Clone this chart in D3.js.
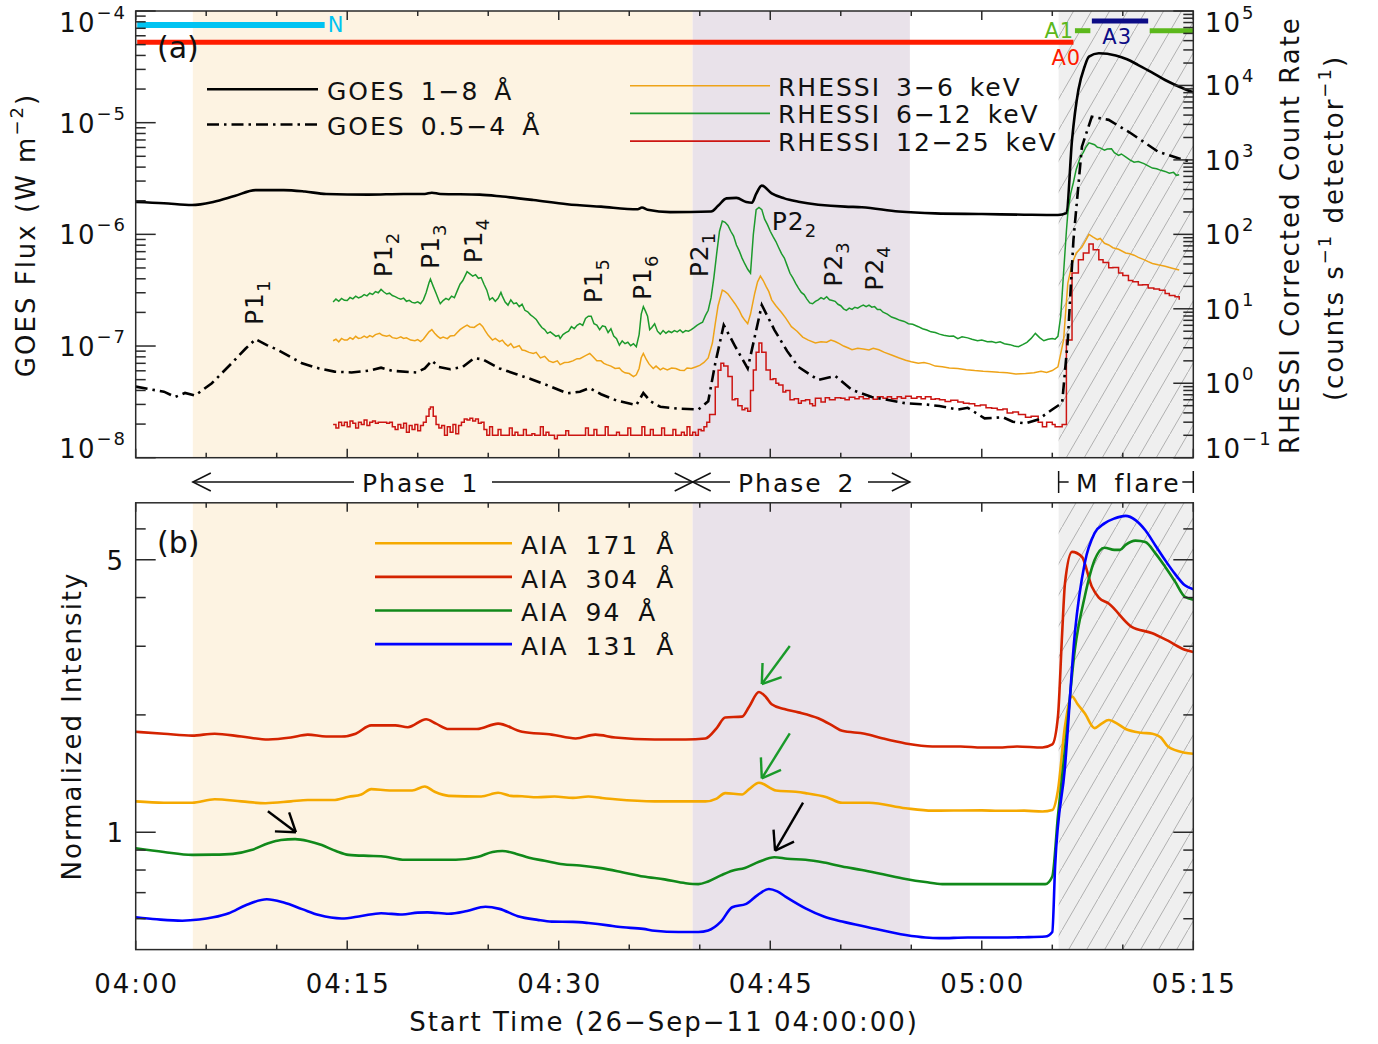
<!DOCTYPE html>
<html>
<head>
<meta charset="utf-8">
<script src="https://cdn.jsdelivr.net/npm/d3@7"></script>
<style>
body{margin:0;background:#fff}
text{font-family:"DejaVu Sans",sans-serif;fill:#111;letter-spacing:2px}
</style>
</head>
<body>
<div id="wrapper"></div>
<script>
// Data: time in minutes after 04:00 UT on 26-Sep-2011
const goesLong = [[0,1.95e-6],[2,1.9e-6],[4,1.83e-6],[5.5,1.95e-6],[7,2.2e-6],[8.5,2.49e-6],[10.5,2.49e-6],[12,2.42e-6],[13.5,2.3e-6],[16.5,2.27e-6],[19,2.3e-6],[20.5,2.3e-6],[21,2.36e-6],[21.6,2.3e-6],[24.4,2.27e-6],[26,2.18e-6],[28.2,2.03e-6],[30.6,1.86e-6],[33,1.77e-6],[35.6,1.68e-6],[35.9,1.74e-6],[36.3,1.66e-6],[37.9,1.58e-6],[40.8,1.6e-6],[41.3,1.8e-6],[41.9,2.1e-6],[42.6,2.12e-6],[43.3,1.95e-6],[43.7,1.92e-6],[44,2.3e-6],[44.4,2.73e-6],[45.1,2.33e-6],[46,2.1e-6],[47,1.96e-6],[50.3,1.77e-6],[51.5,1.75e-6],[54.1,1.6e-6],[56.7,1.54e-6],[60,1.52e-6],[63,1.5e-6],[65.4,1.49e-6],[66,1.55e-6],[66.4,7e-6],[66.85,1.96e-5],[67.3,3.2e-5],[67.6,3.9e-5],[68.3,4.18e-5],[69.5,4e-5],[70.3,3.7e-5],[71.1,3.28e-5],[72,2.85e-5],[73,2.41e-5],[74,2.1e-5],[75,1.87e-5]];
const goesShort = [[0,4.33e-8],[1,4.1e-8],[2,3.9e-8],[2.8,3.5e-8],[3.5,3.8e-8],[4.2,3.6e-8],[5.4,4.64e-8],[6.8,7e-8],[7.8,9.5e-8],[8.5,1.15e-7],[9.3,1.02e-7],[10.1,9.2e-8],[11.8,7e-8],[13,6.3e-8],[14.1,5.9e-8],[15.3,5.8e-8],[16.5,6e-8],[17.4,6.4e-8],[18.2,6e-8],[19.9,5.8e-8],[20.5,6.3e-8],[21,7.4e-8],[21.5,6.5e-8],[22.3,6.2e-8],[23.2,6.5e-8],[24,7.8e-8],[24.6,7.6e-8],[25.8,6.3e-8],[27,5.6e-8],[28.2,4.97e-8],[29.5,4.3e-8],[30.6,3.77e-8],[31.5,3.9e-8],[32.2,4.2e-8],[33,3.7e-8],[34.1,3.25e-8],[35.5,2.96e-8],[36,3.8e-8],[36.5,3.2e-8],[37.2,2.86e-8],[38.5,2.75e-8],[39.9,2.7e-8],[40.6,3.2e-8],[41.1,7e-8],[41.7,1.54e-7],[42.5,1e-7],[43.4,6.3e-8],[43.9,1.21e-7],[44.4,2.33e-7],[45.3,1.39e-7],[46.2,9e-8],[47,6.5e-8],[48.4,4.97e-8],[49.6,5.4e-8],[50.8,4.04e-8],[52.2,3.5e-8],[54.6,3.07e-8],[56,3e-8],[57,2.9e-8],[58.3,2.7e-8],[59,2.8e-8],[60.2,2.25e-8],[61.5,2.3e-8],[62.2,2.1e-8],[63.1,2.03e-8],[64,2.2e-8],[65,2.7e-8],[65.7,3.1e-8],[66.1,1.13e-7],[66.5,8.9e-7],[67.1,6.1e-6],[67.8,1.13e-5],[69,1.06e-5],[70.6,8e-6],[72.5,5.5e-6],[74.4,4.6e-6],[75,4.5e-6]];

const rhessiLow = [[14,3.72],[14.2,3.9],[14.4,3.6],[14.6,4],[14.8,3.8],[15,3.8],[15.2,4.1],[15.4,3.9],[15.6,4.27],[15.8,4],[16,4.07],[16.2,4.3],[16.4,4.1],[16.6,4.37],[16.8,4.2],[17,4.5],[17.3,4.68],[17.5,4.4],[17.8,4.27],[18,4.4],[18.2,4.1],[18.5,3.98],[18.8,4.2],[19,4],[19.2,4.07],[19.5,3.8],[19.8,3.72],[20,3.85],[20.2,3.63],[20.4,3.9],[20.6,4.37],[20.8,4.9],[21,5.25],[21.2,4.7],[21.4,4.3],[21.6,4],[21.8,4.17],[22.1,3.98],[22.3,4.3],[22.6,4.37],[22.8,4.8],[23,5.25],[23.2,5.6],[23.5,6.03],[23.7,5.7],[24,5.62],[24.2,6],[24.4,6.31],[24.6,5.8],[24.8,5.01],[25,4.4],[25.3,3.8],[25.5,4],[25.8,3.63],[26,3.8],[26.2,3.4],[26.4,3.16],[26.6,3.4],[26.8,3],[27,3.09],[27.2,3.2],[27.4,2.8],[27.6,2.75],[27.9,2.6],[28.2,2.51],[28.4,2.6],[28.7,2.19],[29,2.3],[29.3,2],[29.6,1.9],[29.9,2],[30.1,1.78],[30.4,1.9],[30.7,1.91],[31,2],[31.3,2.14],[31.5,2.14],[31.8,2.3],[32,2.4],[32.2,2.51],[32.4,2.3],[32.7,2],[33,2],[33.2,1.85],[33.4,1.78],[33.7,1.7],[34,1.58],[34.3,1.6],[34.5,1.45],[34.7,1.38],[35,1.35],[35.3,1.23],[35.5,1.3],[35.7,1.58],[35.85,2.2],[36,2.51],[36.2,2.1],[36.4,1.82],[36.7,1.58],[36.9,1.7],[37.2,1.51],[37.4,1.6],[37.7,1.51],[38,1.6],[38.3,1.58],[38.6,1.5],[38.9,1.48],[39.1,1.6],[39.4,1.58],[39.7,1.65],[40,1.74],[40.3,1.9],[40.6,2.19],[40.9,3.5],[41.1,6.31],[41.3,11],[41.6,17.8],[41.8,17],[42,15.8],[42.2,14],[42.5,11.7],[42.8,9.5],[43,7.94],[43.2,7],[43.4,6.31],[43.6,8.5],[43.9,16.2],[44.1,23],[44.3,27.5],[44.5,24],[44.7,20],[44.9,17],[45.1,13.2],[45.4,11],[45.8,8.91],[46.1,7.5],[46.5,5.75],[46.9,5],[47.3,4.17],[47.7,3.8],[48.2,3.47],[48.6,3.6],[49,3.55],[49.3,3.8],[49.6,3.63],[49.9,3.4],[50.2,3.16],[50.5,3],[50.8,2.82],[51.2,2.95],[51.6,2.88],[52,2.8],[52.3,2.95],[52.7,2.82],[53.1,2.6],[53.6,2.4],[54.1,2.2],[54.6,2.04],[55,1.95],[55.5,1.86],[55.9,1.9],[56.3,1.82],[56.7,1.7],[57.2,1.66],[57.7,1.6],[58.3,1.58],[58.9,1.52],[59.5,1.48],[60.1,1.45],[60.7,1.43],[61.2,1.4],[61.8,1.38],[62.4,1.33],[63.1,1.35],[63.7,1.38],[64.2,1.45],[64.6,1.4],[65,1.48],[65.4,1.66],[65.8,3.8],[66.1,21.9],[66.4,40],[66.7,56.2],[67.1,67.6],[67.4,85],[67.6,100],[67.9,92],[68.2,85.1],[68.4,88],[68.7,75.9],[69,72],[69.3,66.1],[69.7,63],[70.2,56.2],[70.5,55],[70.8,52.5],[71.1,49],[71.5,45.7],[71.8,43],[72.1,40.7],[72.5,39],[73,37.2],[73.5,35],[74,33.1]];
const rhessiMid = [[14,12.3],[14.2,13.5],[14.4,12.6],[14.6,13.8],[14.8,13],[15,12.9],[15.2,14.2],[15.4,13.6],[15.6,14.8],[15.8,14],[16,14.5],[16.2,15.5],[16.4,14.9],[16.6,16.2],[16.8,15.6],[17,17],[17.2,16.4],[17.4,18.2],[17.6,16.8],[17.8,15.8],[18,16.2],[18.2,15.1],[18.4,14.6],[18.6,13.9],[18.8,13.5],[19,13.9],[19.2,12.6],[19.4,13],[19.6,12.2],[19.8,12],[20,12.4],[20.2,11.7],[20.4,13.2],[20.6,16.6],[20.8,22.4],[20.9,25.1],[21.1,20],[21.3,16.2],[21.5,12.9],[21.6,11.7],[21.8,12.9],[22,13.8],[22.2,13.2],[22.4,14.8],[22.6,14.1],[22.8,17.4],[23,21.4],[23.2,24],[23.4,28.8],[23.5,31.6],[23.7,29.5],[23.9,27.5],[24.1,28.8],[24.3,25.7],[24.5,26.3],[24.7,21.4],[24.9,17.8],[25.1,13.2],[25.3,14.1],[25.5,12.6],[25.7,13.8],[25.9,16.6],[26,14.8],[26.2,12.3],[26.4,11.2],[26.6,13.2],[26.8,11.7],[27,12],[27.2,10.7],[27.4,11.5],[27.6,9.55],[27.8,9.1],[28,8.3],[28.2,7.76],[28.4,7.2],[28.6,6.3],[28.8,5.6],[29,5.25],[29.2,4.68],[29.4,4.9],[29.6,4.57],[29.8,4.27],[30,4.4],[30.1,3.98],[30.3,4.5],[30.5,4.79],[30.7,5],[30.9,5.75],[31.1,5.4],[31.3,6],[31.5,6.31],[31.7,6],[31.9,7.4],[32.1,7.94],[32.3,7.94],[32.5,6.3],[32.7,6.03],[32.9,5.25],[33.1,5.9],[33.3,5.75],[33.5,4.8],[33.7,5.4],[33.9,4.3],[34.1,3.98],[34.3,3.24],[34.5,3.7],[34.7,3.4],[34.9,3.55],[35.1,3.2],[35.3,3.4],[35.5,3.09],[35.7,4.5],[35.85,8.5],[36,10.7],[36.15,9.3],[36.3,7.94],[36.45,5.25],[36.6,5.6],[36.8,6.3],[37,5],[37.2,4.57],[37.4,5.1],[37.6,4.7],[37.8,5],[38,4.8],[38.2,5.1],[38.4,4.9],[38.6,5.2],[38.8,4.79],[39,5.1],[39.2,5],[39.4,5.25],[39.6,5.6],[39.8,6],[40,6.31],[40.2,6.6],[40.4,8.1],[40.6,9.55],[40.8,14],[41,26],[41.2,55],[41.4,110],[41.6,151],[41.8,145],[42,132],[42.2,110],[42.4,95],[42.6,72],[42.8,60],[43,48],[43.2,40],[43.4,34],[43.6,30.2],[43.8,100],[44,214],[44.2,230],[44.4,215],[44.6,160],[44.8,135],[45,110],[45.2,93],[45.4,80],[45.6,66],[45.8,55],[46,48],[46.2,38],[46.4,30],[46.6,26],[46.8,22],[47,19],[47.2,16.6],[47.4,15.5],[47.6,13.5],[47.8,12],[48,11.7],[48.2,12.6],[48.4,13.2],[48.6,14.1],[48.8,13.5],[49,14.5],[49.2,13.2],[49.4,12.9],[49.6,12.6],[49.8,11.5],[50,11],[50.2,10],[50.4,9.55],[50.6,10.2],[50.8,9.8],[51,10.5],[51.2,10.2],[51.4,10.8],[51.6,11.2],[51.8,10.7],[52,11.2],[52.2,10.5],[52.4,10.7],[52.6,9.8],[52.8,9.77],[53,9],[53.3,8.5],[53.6,7.76],[53.9,7.4],[54.2,7],[54.5,6.76],[54.8,6.3],[55.1,6.2],[55.5,5.75],[55.8,5.4],[56.1,5.2],[56.4,4.9],[56.7,4.8],[57,4.57],[57.3,4.4],[57.7,4.27],[58,4.3],[58.3,3.98],[58.6,4.2],[59,4.07],[59.3,3.9],[59.7,3.72],[60,3.8],[60.4,3.6],[60.7,3.63],[61,3.5],[61.3,3.6],[61.6,3.4],[62,3.3],[62.3,3.16],[62.6,3.09],[62.9,3.3],[63.2,3.55],[63.5,4],[63.8,4.68],[64.1,4.1],[64.4,3.72],[64.7,3.9],[65,4],[65.2,3.9],[65.4,4.27],[65.6,8],[65.8,30.2],[66,110],[66.1,191],[66.3,350],[66.5,501],[66.7,750],[66.85,912],[67,1100],[67.2,1259],[67.4,1500],[67.6,1698],[67.8,1650],[68,1600],[68.2,1479],[68.4,1450],[68.7,1349],[68.9,1400],[69.2,1413],[69.4,1250],[69.7,1148],[69.9,1200],[70.2,1096],[70.5,1000],[70.8,933],[71.1,950],[71.5,891],[71.8,830],[72.1,776],[72.4,760],[72.7,724],[73,700],[73.3,661],[73.6,680],[73.8,620],[74,631]];
const rhessiHigh = [[14,0.28],[14.2,0.25],[14.4,0.3],[14.6,0.27],[14.8,0.3],[15,0.26],[15.2,0.31],[15.4,0.29],[15.6,0.25],[15.8,0.3],[16,0.28],[16.2,0.32],[16.4,0.27],[16.6,0.3],[16.8,0.31],[17,0.29],[17.2,0.3],[17.5,0.3],[17.8,0.29],[18,0.3],[18.2,0.26],[18.4,0.24],[18.6,0.28],[18.8,0.25],[19,0.29],[19.2,0.22],[19.4,0.27],[19.6,0.24],[19.8,0.28],[20,0.23],[20.2,0.27],[20.4,0.3],[20.6,0.36],[20.8,0.45],[20.9,0.48],[21.1,0.36],[21.3,0.28],[21.5,0.25],[21.7,0.27],[21.9,0.2],[22.1,0.26],[22.3,0.22],[22.5,0.28],[22.7,0.21],[22.9,0.27],[23.1,0.3],[23.3,0.33],[23.5,0.32],[23.7,0.34],[23.9,0.31],[24.1,0.33],[24.3,0.29],[24.5,0.3],[24.7,0.24],[24.9,0.2],[25.1,0.26],[25.3,0.2],[25.5,0.2],[25.7,0.24],[25.9,0.2],[26.1,0.2],[26.3,0.2],[26.5,0.25],[26.7,0.2],[26.9,0.22],[27.1,0.2],[27.3,0.2],[27.5,0.24],[27.7,0.2],[27.9,0.2],[28.1,0.21],[28.3,0.2],[28.5,0.2],[28.7,0.26],[28.9,0.2],[29.1,0.22],[29.3,0.2],[29.5,0.2],[29.7,0.18],[29.9,0.2],[30.1,0.2],[30.3,0.2],[30.5,0.23],[30.7,0.2],[30.9,0.2],[31.1,0.2],[31.3,0.2],[31.5,0.2],[31.7,0.2],[31.9,0.25],[32.1,0.2],[32.3,0.2],[32.5,0.24],[32.7,0.2],[32.9,0.2],[33.1,0.2],[33.3,0.26],[33.5,0.2],[33.7,0.2],[33.9,0.2],[34.1,0.22],[34.3,0.2],[34.5,0.2],[34.7,0.2],[34.9,0.25],[35.1,0.2],[35.3,0.2],[35.5,0.2],[35.7,0.2],[35.9,0.26],[36.1,0.2],[36.3,0.2],[36.5,0.24],[36.7,0.2],[36.9,0.2],[37.1,0.2],[37.3,0.25],[37.5,0.2],[37.7,0.2],[37.9,0.2],[38.1,0.24],[38.3,0.2],[38.5,0.2],[38.7,0.22],[38.9,0.2],[39.1,0.26],[39.3,0.2],[39.5,0.22],[39.7,0.2],[39.9,0.24],[40.1,0.23],[40.3,0.26],[40.5,0.3],[40.7,0.38],[41.1,0.89],[41.3,1.5],[41.5,1.86],[41.7,1.7],[42,1.23],[42.3,0.6],[42.5,0.62],[42.7,0.5],[43,0.44],[43.2,0.46],[43.4,0.42],[43.6,0.8],[43.8,1.51],[44,2.6],[44.2,3.47],[44.4,2.6],[44.7,1.51],[45,1.12],[45.2,1.15],[45.4,1],[45.6,0.95],[45.9,0.76],[46.1,0.8],[46.4,0.6],[46.7,0.62],[47,0.54],[47.2,0.58],[47.5,0.6],[47.8,0.53],[48,0.5],[48.2,0.63],[48.6,0.56],[48.9,0.64],[49.2,0.6],[49.6,0.64],[50,0.63],[50.3,0.6],[50.6,0.65],[51,0.62],[51.3,0.66],[51.6,0.62],[52,0.65],[52.3,0.61],[52.6,0.66],[53,0.63],[53.3,0.66],[53.6,0.62],[54,0.66],[54.3,0.63],[54.6,0.67],[55,0.63],[55.4,0.66],[55.7,0.62],[56,0.66],[56.4,0.61],[56.7,0.62],[57,0.6],[57.4,0.57],[57.8,0.59],[58.3,0.56],[58.7,0.54],[59.1,0.53],[59.5,0.5],[59.9,0.51],[60.3,0.47],[60.7,0.46],[61.1,0.44],[61.5,0.45],[61.8,0.4],[62.2,0.41],[62.6,0.38],[63.1,0.35],[63.5,0.36],[64,0.3],[64.3,0.26],[64.6,0.3],[65,0.28],[65.2,0.26],[65.4,0.26],[65.7,0.28],[66,3.8],[66.4,30.2],[66.85,45.7],[67.2,56.2],[67.6,74.1],[67.9,62],[68.3,45.7],[68.6,42],[69,35.5],[69.3,36],[69.7,30.2],[70,28],[70.4,24],[70.7,23],[71.1,20.9],[71.4,21],[71.8,19.1],[72.2,18.5],[72.6,17.8],[73,16],[73.3,15.1],[73.7,14.5],[74,13.2]];

const aia304 = [[0,1.81],[2,1.79],[4,1.77],[5.6,1.79],[7.5,1.76],[9.4,1.73],[11,1.75],[12.2,1.78],[13.5,1.76],[14.6,1.76],[15.6,1.79],[16.7,1.88],[18.4,1.88],[19.3,1.86],[20.6,1.95],[21.3,1.9],[22.2,1.84],[24.2,1.84],[25.7,1.9],[27.4,1.81],[29.5,1.78],[31.2,1.74],[32.6,1.78],[34,1.75],[36.8,1.73],[39,1.73],[40.4,1.74],[41.2,1.85],[41.8,1.97],[43,1.98],[43.5,2.1],[44.2,2.29],[44.7,2.22],[45.1,2.13],[46,2.07],[47,2.03],[48.4,1.96],[49.5,1.87],[50.1,1.82],[51.7,1.79],[53,1.74],[54.6,1.69],[56.5,1.66],[58.5,1.66],[60,1.65],[61.2,1.65],[62.5,1.66],[64.3,1.65],[65,1.68],[65.4,1.98],[65.7,3.24],[65.9,4.35],[66.4,5.24],[67.1,5.09],[67.8,4.27],[68.3,4],[69,3.86],[70.6,3.37],[72.1,3.24],[73.2,3.1],[74.4,2.94],[75,2.9]];
const aia171 = [[0,1.2],[2,1.19],[4,1.19],[5.6,1.215],[7.5,1.2],[9.2,1.187],[11,1.2],[12.2,1.21],[14,1.21],[15.1,1.233],[16,1.25],[16.7,1.29],[18,1.28],[19.6,1.28],[20.5,1.31],[21.2,1.27],[22.2,1.24],[24.5,1.235],[25.7,1.263],[26.6,1.24],[27.4,1.237],[28.5,1.23],[29.7,1.235],[31,1.225],[32.1,1.235],[33,1.225],[34,1.215],[36.8,1.2],[39,1.2],[40.4,1.2],[41.2,1.22],[41.8,1.26],[43,1.25],[43.5,1.29],[44.2,1.34],[45.4,1.28],[46.8,1.27],[47.5,1.26],[49,1.23],[50.1,1.19],[52,1.19],[54.6,1.152],[56.5,1.136],[58,1.137],[60,1.138],[61.2,1.135],[63,1.136],[64.3,1.13],[65,1.14],[65.4,1.28],[65.9,1.87],[66.4,2.23],[66.8,2.13],[67.3,2.02],[68,1.85],[68.5,1.9],[69,1.94],[69.6,1.9],[70.2,1.84],[71.3,1.8],[72.1,1.79],[72.7,1.75],[73.2,1.66],[74.4,1.6],[75,1.59]];
const aia94 = [[0,0.91],[2,0.89],[4,0.875],[5.5,0.876],[6.9,0.88],[8.2,0.9],[9.4,0.937],[10.3,0.955],[11.3,0.96],[12.2,0.95],[13.2,0.927],[14.2,0.895],[15.1,0.875],[16.5,0.87],[17.4,0.868],[19.1,0.85],[21,0.85],[22.7,0.85],[24.3,0.865],[25.3,0.89],[26,0.895],[27,0.88],[27.9,0.86],[29,0.845],[30.3,0.828],[31.5,0.822],[33,0.809],[34.5,0.79],[36,0.77],[37.5,0.757],[39,0.74],[39.9,0.736],[40.6,0.748],[41.5,0.775],[42.3,0.797],[43.2,0.81],[44.2,0.84],[45.3,0.863],[46.2,0.855],[47.5,0.85],[48.8,0.836],[50.1,0.817],[51.5,0.8],[53,0.78],[54.6,0.759],[56,0.745],[57.2,0.736],[59,0.736],[61.2,0.736],[63,0.736],[64.5,0.736],[65,0.77],[65.4,1.1],[65.9,1.63],[66.6,2.94],[67.3,4.02],[68,4.99],[68.7,5.37],[69.4,5.3],[69.8,5.3],[70.2,5.46],[70.9,5.6],[71.6,5.55],[72.3,5.2],[73,4.8],[73.7,4.4],[74.4,4.02],[75,3.95]];
const aia131 = [[0,0.605],[1.5,0.598],[3.3,0.593],[4.5,0.597],[5.5,0.605],[6.6,0.62],[7.8,0.65],[9.3,0.673],[10.5,0.66],[11.8,0.635],[13,0.613],[14.6,0.601],[16,0.61],[17.4,0.62],[18.9,0.615],[20,0.622],[20.7,0.623],[22.2,0.618],[23.5,0.628],[24.8,0.644],[25.8,0.636],[27.1,0.609],[28.5,0.596],[29.5,0.59],[31,0.589],[32.1,0.585],[33.5,0.577],[34.2,0.572],[36,0.565],[36.8,0.559],[38.5,0.555],[39.9,0.555],[40.6,0.56],[41.5,0.59],[42.3,0.642],[43.3,0.655],[44.1,0.69],[44.9,0.715],[45.5,0.705],[46.1,0.683],[47.5,0.638],[48.8,0.608],[50.1,0.59],[52,0.57],[54.6,0.545],[56,0.537],[57,0.535],[59,0.537],[61.2,0.537],[63,0.538],[64.5,0.54],[65,0.555],[65.2,0.817],[65.9,1.47],[66.6,3.24],[67.3,4.9],[68,5.85],[68.7,6.2],[69.4,6.38],[70.2,6.48],[70.9,6.32],[71.6,5.95],[72.3,5.45],[73,4.99],[73.7,4.6],[74.4,4.3],[75,4.2]];

// shaded intervals (minutes)
const phase1 = [4.05, 39.5];
const phase2 = [39.5, 54.9];
const flare = [65.45, 75];
// attenuator / night bars
const barN = [0, 13.4];
const barA0 = [0, 66.5];
const barA1 = [[66.5, 67.7], [71.8, 75]];
const barA3 = [67.7, 71.8];

// peak labels: time, flux level of label start, main text, subscript, rotated
const peakLabels = [
  [9.03, 1.54e-7, "P1", "1", true], [18.18, 4.12e-7, "P1", "2", true],
  [21.51, 4.9e-7, "P1", "3", true], [24.56, 5.5e-7, "P1", "4", true],
  [33.07, 2.41e-7, "P1", "5", true], [36.55, 2.58e-7, "P1", "6", true],
  [40.59, 4.12e-7, "P2", "1", true], [45.1, 1.09e-6, "P2", "2", false],
  [50.09, 3.4e-7, "P2", "3", true], [53.0, 3.13e-7, "P2", "4", true]
];
// arrows in panel b: tip time, tip intensity, tail offset dx, dy, colour
const arrowsB = [
  [11.36, 1.0, -28, -21, "#000"], [44.4, 2.40, 28, -38, "#1a9a2a"],
  [44.4, 1.375, 28, -45, "#1a9a2a"], [45.34, 0.897, 28, -48, "#000"]
];

const timeMajor = [0, 15, 30, 45, 60, 75];
const timeMinor = d3.range(5, 75, 5).filter(d => d % 15 !== 0);
const goesDecades = [-8, -7, -6, -5, -4];
const rhessiDecades = [-1, 0, 1, 2, 3, 4, 5];
const normMajor = [1, 5];
const normMinor = [0.6, 0.7, 0.8, 0.9, 2, 3, 4, 6];

// Dimension
const width = 1378, height = 1044;
const L = 135.7, R = 1193.3;
const pa = {top: 11, bottom: 457.7};
const pb = {top: 502.8, bottom: 949.6};

const svg = d3.select('#wrapper').append('svg').attr('width', width).attr('height', height);
const defs = svg.append('defs');
const pat = defs.append('pattern').attr('id', 'hatch').attr('patternUnits', 'userSpaceOnUse')
  .attr('width', 18).attr('height', 31);
pat.append('rect').attr('width', 18).attr('height', 31).attr('fill', '#efefef');
pat.append('line').attr('x1', 0).attr('y1', 31).attr('x2', 18).attr('y2', 0)
  .attr('stroke', '#a8a8a8').attr('stroke-width', 0.9);
defs.append('clipPath').attr('id', 'clipA').append('rect')
  .attr('x', L).attr('y', pa.top).attr('width', R - L).attr('height', pa.bottom - pa.top);
defs.append('clipPath').attr('id', 'clipB').append('rect')
  .attr('x', L).attr('y', pb.top).attr('width', R - L).attr('height', pb.bottom - pb.top);

// Scales
const x = d3.scaleLinear().domain([0, 75]).range([L, R]);
const yG = d3.scaleLog().domain([1e-8, 1e-4]).range([pa.bottom, pa.top]);
const yR = d3.scaleLog().domain([0.1, 1e5]).range([pa.bottom, pa.top]);
const yN = d3.scaleLog().domain([0.5, 7]).range([pb.bottom, pb.top]);

// backgrounds
[pa, pb].forEach(p => {
  const g = svg.append('g');
  g.append('rect').attr('x', x(phase1[0])).attr('y', p.top).attr('width', x(phase1[1]) - x(phase1[0]))
    .attr('height', p.bottom - p.top).attr('fill', '#fdf3e2');
  g.append('rect').attr('x', x(phase2[0])).attr('y', p.top).attr('width', x(phase2[1]) - x(phase2[0]))
    .attr('height', p.bottom - p.top).attr('fill', '#e9e2ea');
  g.append('rect').attr('x', x(flare[0])).attr('y', p.top).attr('width', x(flare[1]) - x(flare[0]))
    .attr('height', p.bottom - p.top).attr('fill', 'url(#hatch)');
});

// Panel a curves
const gA = svg.append('g').attr('clip-path', 'url(#clipA)');
const lineG = d3.line().x(d => x(d[0])).y(d => yG(d[1]));
const lineR = d3.line().x(d => x(d[0])).y(d => yR(d[1]));
const lineN = d3.line().x(d => x(d[0])).y(d => yN(d[1])).curve(d3.curveMonotoneX);

gA.append('path').datum(rhessiLow).attr('d', lineR).attr('fill', 'none').attr('stroke', '#eea318').attr('stroke-width', 1.5);
gA.append('path').datum(rhessiMid).attr('d', lineR).attr('fill', 'none').attr('stroke', '#1c9a2c').attr('stroke-width', 1.5);
gA.append('path').datum(rhessiHigh).attr('d', lineR.curve(d3.curveStepAfter)).attr('fill', 'none').attr('stroke', '#cc1512').attr('stroke-width', 1.5);
gA.append('path').datum(goesShort).attr('d', lineG).attr('fill', 'none').attr('stroke', '#000')
  .attr('stroke-width', 2.6).attr('stroke-dasharray', '12,5,2.5,5');
gA.append('path').datum(goesLong).attr('d', lineG.curve(d3.curveMonotoneX)).attr('fill', 'none').attr('stroke', '#000').attr('stroke-width', 2.6);

// top bars
const bars = svg.append('g');
const hbar = (iv, y, col, w) => bars.append('line').attr('x1', x(iv[0]) + 1.5).attr('x2', x(iv[1]))
  .attr('y1', y).attr('y2', y).attr('stroke', col).attr('stroke-width', w);
hbar(barN, 25, '#00c3f2', 6);
hbar(barA0, 42.3, '#ff1c00', 5);
barA1.forEach(iv => hbar(iv, 30.7, '#5cb81c', 5));
hbar(barA3, 21, '#0c0c86', 5);
const smallText = (t, xx, yy, col) => bars.append('text').attr('x', xx).attr('y', yy).text(t)
  .style('fill', col).style('font-size', '21px').style('letter-spacing', '1px');
smallText('N', x(barN[1]) + 3, 31.5, '#00c3f2');
smallText('A1', x(barA1[0][0]) - 29, 37.5, '#5cb81c');
smallText('A3', x(barA3[0]) + 12, 43.5, '#0c0c86');
smallText('A0', x(barA0[1]) - 22, 65, '#ff1c00');

// legends panel a
const legA = svg.append('g');
legA.append('line').attr('x1', 207).attr('x2', 318).attr('y1', 89.3).attr('y2', 89.3).attr('stroke', '#000').attr('stroke-width', 2.6);
legA.append('line').attr('x1', 207).attr('x2', 318).attr('y1', 124.5).attr('y2', 124.5).attr('stroke', '#000')
  .attr('stroke-width', 2.6).attr('stroke-dasharray', '12,5,2.5,5');
legA.append('text').attr('x', 327).attr('y', 100).text('GOES 1\u22128 \u00c5').style('font-size', '25px').style('word-spacing', '5px');
legA.append('text').attr('x', 327).attr('y', 134.5).text('GOES 0.5\u22124 \u00c5').style('font-size', '25px').style('word-spacing', '5px');
[['RHESSI 3\u22126 keV', '#eea318'], ['RHESSI 6\u221212 keV', '#1c9a2c'], ['RHESSI 12\u221225 keV', '#cc1512']].forEach((d, i) => {
  legA.append('line').attr('x1', 630).attr('x2', 770).attr('y1', 85.7 + i * 27.7).attr('y2', 85.7 + i * 27.7)
    .attr('stroke', d[1]).attr('stroke-width', 1.6);
  legA.append('text').attr('x', 778).attr('y', 95.5 + i * 27.7).text(d[0]).style('font-size', '25px').style('word-spacing', '5px');
});
legA.append('text').attr('x', 157).attr('y', 58).text('(a)').style('font-size', '30px').style('letter-spacing', '0px');

// peak labels
peakLabels.forEach(d => {
  const px = x(d[0]), py = yG(d[1]);
  const t = svg.append('text').style('font-size', '25px').style('letter-spacing', '1px');
  if (d[4]) t.attr('transform', `translate(${px},${py}) rotate(-90)`);
  else t.attr('x', px).attr('y', py);
  t.append('tspan').text(d[2]);
  t.append('tspan').attr('dy', 7).style('font-size', '18px').text(d[3]);
});

// Panel b curves
const gB = svg.append('g').attr('clip-path', 'url(#clipB)');
[[aia304, '#d42300'], [aia171, '#f5a900'], [aia94, '#11891a'], [aia131, '#0000ff']].forEach(s => {
  gB.append('path').datum(s[0]).attr('d', lineN).attr('fill', 'none').attr('stroke', s[1]).attr('stroke-width', 2.6);
});
const legB = svg.append('g');
[['AIA 171 \u00c5', '#f5a900'], ['AIA 304 \u00c5', '#d42300'], ['AIA 94 \u00c5', '#11891a'], ['AIA 131 \u00c5', '#0000ff']].forEach((d, i) => {
  legB.append('line').attr('x1', 375).attr('x2', 512).attr('y1', 543.3 + i * 33.6).attr('y2', 543.3 + i * 33.6)
    .attr('stroke', d[1]).attr('stroke-width', 2.6);
  legB.append('text').attr('x', 521).attr('y', 554 + i * 33.6).text(d[0]).style('font-size', '25px').style('word-spacing', '7px');
});
legB.append('text').attr('x', 157).attr('y', 553).text('(b)').style('font-size', '30px').style('letter-spacing', '0px');

// arrows
arrowsB.forEach(d => {
  const tx = x(d[0]), ty = yN(d[1]);
  const ang = Math.atan2(d[3], d[2]);
  const g = svg.append('g').attr('stroke', d[4]).attr('stroke-width', 2.4).attr('fill', 'none');
  g.append('line').attr('x1', tx).attr('y1', ty).attr('x2', tx + d[2]).attr('y2', ty + d[3]);
  [-0.6, 0.6].forEach(a => {
    g.append('line').attr('x1', tx).attr('y1', ty)
      .attr('x2', tx + 21 * Math.cos(ang + a)).attr('y2', ty + 21 * Math.sin(ang + a));
  });
});

// Axes
const tickLine = (g, x1, y1, x2, y2) => g.append('line').attr('x1', x1).attr('y1', y1).attr('x2', x2).attr('y2', y2);
const axG = svg.append('g').attr('stroke', '#2a2a2a').attr('stroke-width', 1.5);
[pa, pb].forEach(p => {
  axG.append('rect').attr('x', L).attr('y', p.top).attr('width', R - L).attr('height', p.bottom - p.top).attr('fill', 'none');
  timeMajor.forEach(t => { tickLine(axG, x(t), p.top, x(t), p.top + 9); tickLine(axG, x(t), p.bottom, x(t), p.bottom - 9); });
  timeMinor.forEach(t => { tickLine(axG, x(t), p.top, x(t), p.top + 5); tickLine(axG, x(t), p.bottom, x(t), p.bottom - 5); });
});
// log ticks panel a
goesDecades.forEach(e => {
  tickLine(axG, L, yG(Math.pow(10, e)), L + 20, yG(Math.pow(10, e)));
  if (e < -4) d3.range(2, 10).forEach(m => tickLine(axG, L, yG(m * Math.pow(10, e)), L + 10, yG(m * Math.pow(10, e))));
});
rhessiDecades.forEach(e => {
  tickLine(axG, R, yR(Math.pow(10, e)), R - 20, yR(Math.pow(10, e)));
  if (e < 5) d3.range(2, 10).forEach(m => tickLine(axG, R, yR(m * Math.pow(10, e)), R - 10, yR(m * Math.pow(10, e))));
});
normMajor.forEach(v => { tickLine(axG, L, yN(v), L + 20, yN(v)); tickLine(axG, R, yN(v), R - 20, yN(v)); });
normMinor.forEach(v => { tickLine(axG, L, yN(v), L + 10, yN(v)); tickLine(axG, R, yN(v), R - 10, yN(v)); });

// tick labels
const labG = svg.append('g').style('font-size', '26px');
const expLabel = (xx, yy, e, anchor) => {
  const t = labG.append('text').attr('x', xx).attr('y', yy).attr('text-anchor', anchor);
  t.append('tspan').text('10');
  t.append('tspan').attr('dy', -13).style('font-size', '18px').text(e < 0 ? '\u2212' + (-e) : String(e));
};
const clampBase = (ty, p) => Math.max(p.top + 21, Math.min(p.bottom, ty + 10));
goesDecades.forEach(e => expLabel(127, clampBase(yG(Math.pow(10, e)), pa), e, 'end'));
rhessiDecades.forEach(e => expLabel(1205, clampBase(yR(Math.pow(10, e)), pa), e, 'start'));
normMajor.forEach(v => labG.append('text').attr('x', 125).attr('y', yN(v) + 10).attr('text-anchor', 'end').text(v));
timeMajor.forEach(t => labG.append('text').attr('x', x(t) + 1).attr('y', 993).attr('text-anchor', 'middle')
  .text(d3.format('02d')(4 + Math.floor(t / 60)) + ':' + d3.format('02d')(t % 60)));

// axis titles
const title = (xx, yy, rot) => svg.append('text').attr('text-anchor', 'middle').style('font-size', '26px')
  .attr('transform', `translate(${xx},${yy})` + (rot ? ' rotate(-90)' : ''));
let t1 = title(35, 235, true);
t1.append('tspan').text('GOES Flux (W m');
t1.append('tspan').attr('dy', -12).style('font-size', '18px').text('\u22122');
t1.append('tspan').attr('dy', 12).text(')');
title(81, 726, true).text('Normalized Intensity');
title(1299, 235, true).text('RHESSI Corrected Count Rate');
let t2 = title(1343, 228, true);
t2.append('tspan').text('(counts s');
t2.append('tspan').attr('dy', -12).style('font-size', '18px').text('\u22121');
t2.append('tspan').attr('dy', 12).text(' detector');
t2.append('tspan').attr('dy', -12).style('font-size', '18px').text('\u22121');
t2.append('tspan').attr('dy', 12).text(')');
title(664, 1031, false).text('Start Time (26\u2212Sep\u221211 04:00:00)');

// phase arrows row
const ph = svg.append('g');
const pl = ph.append('g').attr('stroke', '#111').attr('stroke-width', 1.5).attr('fill', 'none');
const yRow = 482;
const head = (tip, dir) => pl.append('path')
  .attr('d', `M${tip + dir * 18},${yRow - 9}L${tip},${yRow}L${tip + dir * 18},${yRow + 9}`);
tickLine(pl, x(phase1[0]), yRow, 354, yRow); head(x(phase1[0]), 1);
tickLine(pl, 492, yRow, x(phase1[1]), yRow); head(x(phase1[1]), -1);
tickLine(pl, x(phase2[0]), yRow, 730, yRow); head(x(phase2[0]), 1);
tickLine(pl, 868, yRow, x(phase2[1]), yRow); head(x(phase2[1]), -1);
tickLine(pl, x(flare[0]), yRow - 11, x(flare[0]), yRow + 11);
tickLine(pl, x(flare[0]), yRow, x(flare[0]) + 10, yRow);
tickLine(pl, x(flare[1]), yRow - 11, x(flare[1]), yRow + 11);
tickLine(pl, x(flare[1]) - 11, yRow, x(flare[1]), yRow);
ph.append('text').attr('x', 362).attr('y', 492).text('Phase 1').style('font-size', '25px').style('word-spacing', '5px');
ph.append('text').attr('x', 738).attr('y', 492).text('Phase 2').style('font-size', '25px').style('word-spacing', '5px');
ph.append('text').attr('x', 1076).attr('y', 492).text('M flare').style('font-size', '25px').style('word-spacing', '5px');
</script>
</body>
</html>
